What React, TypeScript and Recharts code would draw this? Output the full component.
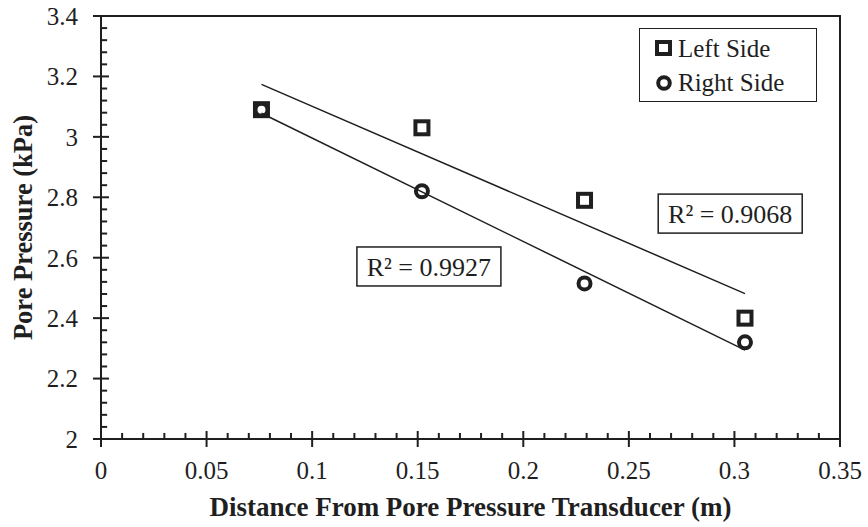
import { ScatterChart, Scatter, XAxis, YAxis, ReferenceArea, ReferenceLine, ReferenceDot, Legend } from 'recharts'

const INK = '#1f1f1f'
const FONT = 'Liberation Serif, Tinos, Times New Roman, DejaVu Serif, serif'

// data
const distance = [0.076, 0.152, 0.229, 0.305]
const leftSide = [3.09, 3.03, 2.79, 2.4]
const rightSide = [3.09, 2.82, 2.515, 2.32]

const xTicks = [0, 0.05, 0.1, 0.15, 0.2, 0.25, 0.3, 0.35]
const yTicks = [2, 2.2, 2.4, 2.6, 2.8, 3, 3.2, 3.4]

const r2Left = 'R² = 0.9068'
const r2Right = 'R² = 0.9927'
const r2LeftPos = { x: 0.298, y: 2.746 }
const r2RightPos = { x: 0.1553, y: 2.571 }

const series = [
  { name: 'Left Side', marker: 'square' },
  { name: 'Right Side', marker: 'circle' },
]

const toPoints = (ys: number[]) => distance.map((x, i) => ({ x, y: ys[i] }))

// least squares trendline over the measured range
function trend(ys: number[]) {
  const n = distance.length
  const mx = distance.reduce((a, b) => a + b, 0) / n
  const my = ys.reduce((a, b) => a + b, 0) / n
  let sxy = 0
  let sxx = 0
  distance.forEach((x, i) => {
    sxy += (x - mx) * (ys[i] - my)
    sxx += (x - mx) * (x - mx)
  })
  const slope = sxy / sxx
  const ends = [distance[0], distance[n - 1]]
  return ends.map(x => ({ x, y: my + slope * (x - mx) }))
}

const minors = (ticks: number[]) => {
  const out: number[] = []
  for (let i = 0; i < ticks.length - 1; i++) {
    const step = (ticks[i + 1] - ticks[i]) / 5
    for (let k = 1; k < 5; k++) out.push(ticks[i] + k * step)
  }
  return out
}

const xMinor = minors(xTicks)
const yMinor = minors(yTicks)

// inside tick lengths in data units (~8px major, ~6px minor)
const X_MAJOR_IN = 0.0265
const X_MINOR_IN = 0.02
const Y_MAJOR_IN = 0.0038
const Y_MINOR_IN = 0.0029

const Square = (p: any) => (
  <rect x={p.cx - 6.5} y={p.cy - 6.5} width={13} height={13} fill="none" stroke={INK} strokeWidth={4} />
)
const Circle = (p: any) => <circle cx={p.cx} cy={p.cy} r={6} fill="none" stroke={INK} strokeWidth={4} />
const Nothing = () => <g />

const R2Box = ({ cx, cy, text }: { cx: number; cy: number; text: string }) => (
  <g>
    <rect x={cx - 72} y={cy - 19.5} width={144} height={39} fill="#fff" stroke={INK} strokeWidth={1.5} />
    <text x={cx} y={cy + 1} textAnchor="middle" dominantBaseline="central" fontSize={26} fontFamily={FONT} fill={INK}>
      {text}
    </text>
  </g>
)

const YTitle = (props: any) => {
  const vb = props.viewBox || { x: 0, y: 16, width: 101, height: 423 }
  const cx = vb.x + 23
  const cy = vb.y + vb.height / 2
  return (
    <text
      x={cx}
      y={cy}
      transform={`rotate(-90 ${cx} ${cy})`}
      textAnchor="middle"
      dominantBaseline="central"
      fontSize={26.5}
      fontWeight="bold"
      fontFamily={FONT}
      fill={INK}
    >
      Pore Pressure (kPa)
    </text>
  )
}

const LegendBox = () => (
  <div
    style={{
      border: `1.5px solid ${INK}`,
      background: '#fff',
      padding: '3px 0 0 15px',
      fontFamily: FONT,
      fontSize: 25,
      color: INK,
      boxSizing: 'border-box',
      width: 178,
      height: 74,
      lineHeight: '34px',
    }}
  >
    {series.map(s => (
      <div key={s.name} style={{ display: 'flex', alignItems: 'center' }}>
        <svg width={20} height={20} style={{ marginRight: 3 }}>
          {s.marker === 'square' ? (
            <rect x={2} y={3} width={13} height={12} fill="none" stroke={INK} strokeWidth={4} />
          ) : (
            <circle cx={9} cy={10} r={5.8} fill="none" stroke={INK} strokeWidth={4} />
          )}
        </svg>
        <span>{s.name}</span>
      </div>
    ))}
  </div>
)

export default function App() {
  const tickStyle = { fill: INK, fontSize: 25, fontFamily: FONT }
  return (
    <div style={{ position: 'absolute', left: 0, top: 0, width: 868, height: 527, background: '#fff', fontFamily: FONT }}>
      <ScatterChart width={868} height={527} margin={{ top: 16, right: 28, bottom: 0, left: 0 }} style={{ fontFamily: FONT }}>
        <XAxis
          type="number"
          dataKey="x"
          domain={[0, 0.35]}
          ticks={xTicks}
          allowDataOverflow
          tickFormatter={(v: number) => String(+v.toFixed(2))}
          height={88}
          axisLine={{ stroke: INK, strokeWidth: 2 }}
          tickLine={{ stroke: INK, strokeWidth: 2 }}
          tickSize={8}
          tickMargin={14}
          tick={tickStyle}
          label={{
            value: 'Distance From Pore Pressure Transducer (m)',
            position: 'insideBottom',
            offset: 11,
            style: { fontSize: 27, fontWeight: 'bold', fontFamily: FONT, fill: INK },
          }}
        />
        <YAxis
          type="number"
          dataKey="y"
          domain={[2, 3.4]}
          ticks={yTicks}
          allowDataOverflow
          tickFormatter={(v: number) => String(+v.toFixed(1))}
          width={101}
          axisLine={{ stroke: INK, strokeWidth: 2 }}
          tickLine={{ stroke: INK, strokeWidth: 2 }}
          tickSize={8}
          tickMargin={15}
          tick={tickStyle}
          label={{ content: YTitle }}
        />
        <ReferenceArea x1={0} x2={0.35} y1={2} y2={3.4} fill="none" stroke={INK} strokeWidth={2} />

        {xTicks.slice(1).map(t => (
          <ReferenceLine key={'xM' + t} segment={[{ x: t, y: 2 }, { x: t, y: 2 + X_MAJOR_IN }]} stroke={INK} strokeWidth={2} />
        ))}
        {xMinor.map(t => (
          <ReferenceLine key={'xm' + t} segment={[{ x: t, y: 2 }, { x: t, y: 2 + X_MINOR_IN }]} stroke={INK} strokeWidth={2} />
        ))}
        {yTicks.slice(1).map(t => (
          <ReferenceLine key={'yM' + t} segment={[{ x: 0, y: t }, { x: Y_MAJOR_IN, y: t }]} stroke={INK} strokeWidth={2} />
        ))}
        {yMinor.map(t => (
          <ReferenceLine key={'ym' + t} segment={[{ x: 0, y: t }, { x: Y_MINOR_IN, y: t }]} stroke={INK} strokeWidth={2} />
        ))}

        <Scatter
          data={trend(leftSide)}
          line={{ stroke: INK, strokeWidth: 1.5 }}
          shape={Nothing}
          legendType="none"
          isAnimationActive={false}
        />
        <Scatter
          data={trend(rightSide)}
          line={{ stroke: INK, strokeWidth: 1.5 }}
          shape={Nothing}
          legendType="none"
          isAnimationActive={false}
        />
        <Scatter name="Left Side" data={toPoints(leftSide)} shape={Square} isAnimationActive={false} />
        <Scatter name="Right Side" data={toPoints(rightSide)} shape={Circle} isAnimationActive={false} />

        <ReferenceDot
          x={r2LeftPos.x}
          y={r2LeftPos.y}
          ifOverflow="visible"
          shape={(p: any) => <R2Box cx={p.cx} cy={p.cy} text={r2Left} />}
        />
        <ReferenceDot
          x={r2RightPos.x}
          y={r2RightPos.y}
          ifOverflow="visible"
          shape={(p: any) => <R2Box cx={p.cx} cy={p.cy} text={r2Right} />}
        />

        <Legend
          layout="horizontal"
          verticalAlign="middle"
          align="center"
          content={LegendBox}
          wrapperStyle={{ position: 'absolute', top: 28, left: 639, width: 178, height: 74 }}
        />
      </ScatterChart>
    </div>
  )
}
